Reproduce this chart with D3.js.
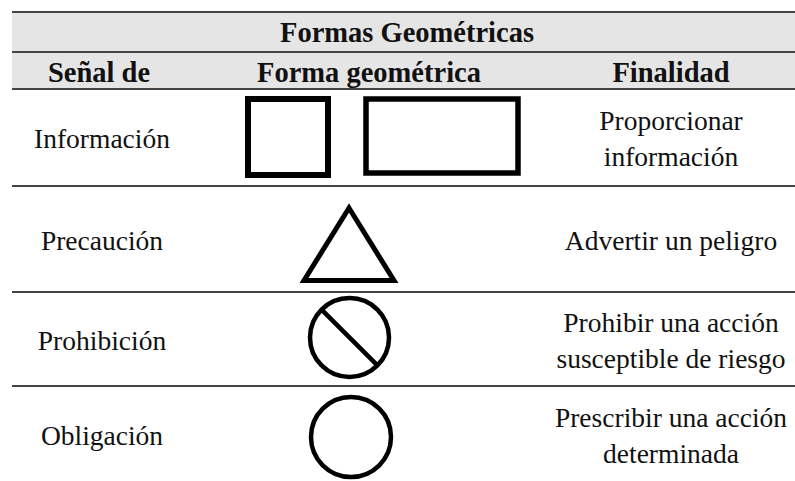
<!DOCTYPE html>
<html>
<head>
<meta charset="utf-8">
<script src="https://cdn.jsdelivr.net/npm/d3@7"></script>
<style>
  html, body { margin: 0; padding: 0; background: #fff; }
</style>
</head>
<body>
<div id="chart"></div>
<script>
// table content
const title = "Formas Geométricas";
const headers = ["Señal de", "Forma geométrica", "Finalidad"];
const categories = ["Información", "Precaución", "Prohibición", "Obligación"];
const shapes = [["square", "rectangle"], ["triangle"], ["prohibition"], ["circle"]];
const purposes = [
    ["Proporcionar", "información"],
    ["Advertir un peligro"],
    ["Prohibir una acción", "susceptible de riesgo"],
    ["Prescribir una acción", "determinada"]
];

const width = 795, height = 481;
const tableLeft = 12, tableTop = 12;
const titleH = 40, headerH = 37;
const rowHeights = [97, 106, 94, 97];
const lineColor = "#444";
const fontSize = 27.5, boldSize = 28.5, lineGap = 36;
const serif = "'Liberation Serif', 'Times New Roman', Times, 'Nimbus Roman', 'Nimbus Roman No9 L', 'TeX Gyre Termes', FreeSerif, 'Noto Serif', 'Noto Serif CJK SC', 'DejaVu Serif', serif";

// row tops from cumulative heights
const bodyTop = tableTop + titleH + headerH;
const rowTops = rowHeights.map((h, i) => bodyTop + d3.sum(rowHeights.slice(0, i)));
const y = d3.scaleOrdinal(categories, rowTops);
const rowH = d3.scaleOrdinal(categories, rowHeights);
const colX = d3.scaleOrdinal(headers, [99, 369, 671]);
const bodyX = {label: 102, shape: 350, purpose: 671};

const svg = d3.select("#chart")
    .append("svg")
        .attr("width", width)
        .attr("height", height)
        .style("font-family", serif);

// header background
svg.append("rect")
    .attr("x", tableLeft).attr("y", tableTop)
    .attr("width", width - tableLeft).attr("height", titleH + headerH)
    .attr("fill", "#e5e5e5");

// horizontal rules
const rules = [tableTop, tableTop + titleH, bodyTop].concat(rowTops.slice(1));
svg.selectAll("line.rule")
    .data(rules)
    .enter()
    .append("line")
        .attr("class", "rule")
        .attr("x1", tableLeft).attr("x2", width)
        .attr("y1", d => d).attr("y2", d => d)
        .attr("stroke", lineColor)
        .attr("stroke-width", 2);

// title + headers
svg.append("text")
    .attr("x", 407).attr("y", tableTop + titleH / 2 + 0.33 * boldSize + 1)
    .attr("text-anchor", "middle")
    .attr("fill", "#111")
    .attr("font-size", boldSize).attr("font-weight", "bold")
    .text(title);

svg.selectAll("text.header")
    .data(headers)
    .enter()
    .append("text")
        .attr("class", "header")
        .attr("x", d => colX(d))
        .attr("y", tableTop + titleH + headerH / 2 + 0.33 * boldSize + 2)
        .attr("text-anchor", "middle")
        .attr("fill", "#111")
        .attr("font-size", boldSize).attr("font-weight", "bold")
        .text(d => d);

// body rows
const rows = svg.selectAll("g.row")
    .data(categories.map((c, i) => ({cat: c, shapes: shapes[i], purpose: purposes[i]})))
    .enter()
    .append("g")
        .attr("class", "row")
        .attr("transform", d => "translate(0," + (y(d.cat) + rowH(d.cat) / 2) + ")");

rows.append("text")
    .attr("x", bodyX.label)
    .attr("y", 1.5 + 0.33 * fontSize)
    .attr("text-anchor", "middle")
    .attr("fill", "#111")
    .attr("font-size", fontSize)
    .text(d => d.cat);

rows.each(function(d) {
    const g = d3.select(this);
    const n = d.purpose.length;
    d.purpose.forEach((t, i) => {
        g.append("text")
            .attr("x", bodyX.purpose)
            .attr("y", 1.5 + (i - (n - 1) / 2) * lineGap + 0.33 * fontSize)
            .attr("text-anchor", "middle")
            .attr("fill", "#111")
            .attr("font-size", fontSize)
            .text(t);
    });

    const s = g.append("g").attr("transform", "translate(" + bodyX.shape + ",0)")
        .attr("fill", "none").attr("stroke", "#000");
    d.shapes.forEach(k => {
        if (k === "square") {
            s.append("rect").attr("x", -102).attr("y", -38.5)
                .attr("width", 80).attr("height", 76).attr("stroke-width", 6);
        } else if (k === "rectangle") {
            s.append("rect").attr("x", 16).attr("y", -38.5)
                .attr("width", 152).attr("height", 74).attr("stroke-width", 5.5);
        } else if (k === "triangle") {
            s.append("path")
                .attr("d", d3.line()([[-1, -31], [44, 41.5], [-46, 41.5]]) + "Z")
                .attr("stroke-width", 5).attr("stroke-linejoin", "miter");
        } else if (k === "prohibition") {
            const r = 39.5;
            s.append("circle").attr("cx", -0.5).attr("cy", -1.5).attr("r", r).attr("stroke-width", 4.5);
            const a = r * Math.SQRT1_2;
            s.append("line")
                .attr("x1", -0.5 - a).attr("y1", -1.5 - a)
                .attr("x2", -0.5 + a).attr("y2", -1.5 + a)
                .attr("stroke-width", 4.5);
        } else if (k === "circle") {
            s.append("circle").attr("cx", 1).attr("cy", 2.5).attr("r", 40).attr("stroke-width", 4.5);
        }
    });
});
</script>
</body>
</html>
